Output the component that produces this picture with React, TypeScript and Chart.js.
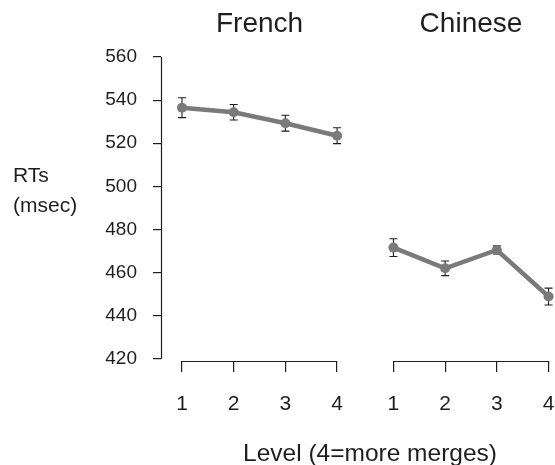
import React, { useEffect, useRef } from "react";
import { Chart, registerables } from "chart.js";

Chart.register(...registerables);

// ---- data ----
const levels = [1, 2, 3, 4];
const levelLabels = ["1", "2", "3", "4"];
const panelNames = ["French", "Chinese"];
const frenchRT = [536.5, 534.4, 529.3, 523.5];
const frenchErr = [4.6, 3.6, 3.7, 3.7];
const chineseRT = [471.6, 462.0, 470.5, 448.9];
const chineseErr = [4.1, 3.4, 1.9, 3.9];
const yTicks = [420, 440, 460, 480, 500, 520, 540, 560];
const yAxisTitle = ["RTs", "(msec)"];
const xAxisTitle = "Level (4=more merges)";

// ---- layout constants ----
const PANEL_SHIFT = 4.09;
const X_MIN = 0.594;
const X_MAX = 8.215;
const Y_MIN = 419;
const Y_MAX = 560;
const FONT = "'Liberation Sans', Arial, Helvetica, sans-serif";
const INK = "#1e1e1e";
const GRAY = "#7a7a7a";

const tickPositions: number[] = [];
[0, 1].forEach((p) => levels.forEach((l) => tickPositions.push(l + p * PANEL_SHIFT)));
const panelCenters = [0, 1].map((p) => (levels[0] + levels[levels.length - 1]) / 2 + p * PANEL_SHIFT);

const errorBarPlugin = {
  id: "errorBars",
  beforeDatasetsDraw(chart: any) {
    const ctx = chart.ctx;
    const ys = chart.scales.y;
    ctx.save();
    ctx.strokeStyle = INK;
    ctx.lineWidth = 1.1;
    chart.data.datasets.forEach((ds: any, di: number) => {
      const meta = chart.getDatasetMeta(di);
      meta.data.forEach((el: any, i: number) => {
        const v = ds.data[i].y;
        const e = ds.errors[i];
        const top = ys.getPixelForValue(v + e);
        const bot = ys.getPixelForValue(v - e);
        const x = el.x;
        ctx.beginPath();
        ctx.moveTo(x, top);
        ctx.lineTo(x, bot);
        ctx.moveTo(x - 4, top);
        ctx.lineTo(x + 4, top);
        ctx.moveTo(x - 4, bot);
        ctx.lineTo(x + 4, bot);
        ctx.stroke();
      });
    });
    ctx.restore();
  },
};

const axesPlugin = {
  id: "axesLines",
  afterDraw(chart: any) {
    const ctx = chart.ctx;
    const xs = chart.scales.x;
    const ys = chart.scales.y;
    const area = chart.chartArea;
    ctx.save();
    ctx.strokeStyle = INK;
    ctx.lineWidth = 1.2;
    // y axis line
    const lx = Math.round(area.left) + 0.5;
    ctx.beginPath();
    ctx.moveTo(lx, ys.getPixelForValue(yTicks[yTicks.length - 1]));
    ctx.lineTo(lx, ys.getPixelForValue(yTicks[0]));
    ctx.stroke();
    // x axis segments per panel
    const by = Math.round(area.bottom) + 0.5;
    [0, 1].forEach((p) => {
      ctx.beginPath();
      ctx.moveTo(xs.getPixelForValue(levels[0] + p * PANEL_SHIFT), by);
      ctx.lineTo(xs.getPixelForValue(levels[levels.length - 1] + p * PANEL_SHIFT), by);
      ctx.stroke();
    });
    // texts
    ctx.fillStyle = INK;
    ctx.textAlign = "left";
    ctx.textBaseline = "alphabetic";
    ctx.font = `21px ${FONT}`;
    ctx.fillText(yAxisTitle[0], 13, 182);
    ctx.fillText(yAxisTitle[1], 13, 212);
    ctx.textAlign = "center";
    ctx.font = `24.5px ${FONT}`;
    ctx.fillText(xAxisTitle, 370, 461);
    ctx.restore();
  },
};

const noSidePadding = (h: number) => (s: any) => {
  s.height = h;
  s.paddingLeft = 0;
  s.paddingRight = 0;
};

export default function App() {
  const ref = useRef<HTMLCanvasElement | null>(null);
  useEffect(() => {
    if (!ref.current) return;
    const mk = (vals: number[], errs: number[], p: number) => ({
      data: levels.map((l, i) => ({ x: l + p * PANEL_SHIFT, y: vals[i] })),
      errors: errs,
      borderColor: GRAY,
      backgroundColor: GRAY,
      borderWidth: 4.5,
      pointRadius: 5,
      pointBorderWidth: 0,
      pointBackgroundColor: GRAY,
      tension: 0,
      clip: false,
    });
    const chart = new Chart(ref.current, {
      type: "line",
      data: {
        datasets: [mk(frenchRT, frenchErr, 0), mk(chineseRT, chineseErr, 1)] as any,
      },
      options: {
        animation: false,
        responsive: false,
        devicePixelRatio: 1,
        layout: { padding: 0, autoPadding: false },
        plugins: { legend: { display: false }, tooltip: { enabled: false }, title: { display: false } },
        scales: {
          x: {
            type: "linear",
            position: "bottom",
            min: X_MIN,
            max: X_MAX,
            afterBuildTicks: (s: any) => {
              s.ticks = tickPositions.map((v) => ({ value: v }));
            },
            afterFit: noSidePadding(104),
            ticks: {
              autoSkip: false,
              maxRotation: 0,
              padding: 19.5,
              color: INK,
              font: { family: FONT, size: 21 },
              callback: (_v: any, i: number) => levelLabels[i % levelLabels.length],
            },
            grid: { drawOnChartArea: false, drawTicks: true, tickLength: 11, color: INK, lineWidth: 1.2 },
            border: { display: false },
          },
          xTop: {
            type: "linear",
            position: "top",
            min: X_MIN,
            max: X_MAX,
            afterBuildTicks: (s: any) => {
              s.ticks = panelCenters.map((v) => ({ value: v }));
            },
            afterFit: noSidePadding(57),
            ticks: {
              autoSkip: false,
              maxRotation: 0,
              padding: 8,
              color: INK,
              font: { family: FONT, size: 28 },
              callback: (_v: any, i: number) => panelNames[i],
            },
            grid: { display: false },
            border: { display: false },
          },
          y: {
            type: "linear",
            position: "left",
            min: Y_MIN,
            max: Y_MAX,
            afterBuildTicks: (s: any) => {
              s.ticks = yTicks.map((v) => ({ value: v }));
            },
            afterFit: (s: any) => {
              s.width = 161;
              s.paddingTop = 0;
              s.paddingBottom = 0;
            },
            ticks: {
              padding: 16,
              color: INK,
              font: { family: FONT, size: 19 },
              callback: (v: any) => String(v),
            },
            grid: { drawOnChartArea: false, drawTicks: true, tickLength: 8, color: INK, lineWidth: 1.2 },
            border: { display: false },
          },
        },
      } as any,
      plugins: [errorBarPlugin, axesPlugin],
    });
    return () => chart.destroy();
  }, []);
  return (
    <div style={{ position: "absolute", left: 0, top: 0, width: 555, height: 465, background: "#fff" }}>
      <canvas ref={ref} width={555} height={465} style={{ display: "block" }} />
    </div>
  );
}
